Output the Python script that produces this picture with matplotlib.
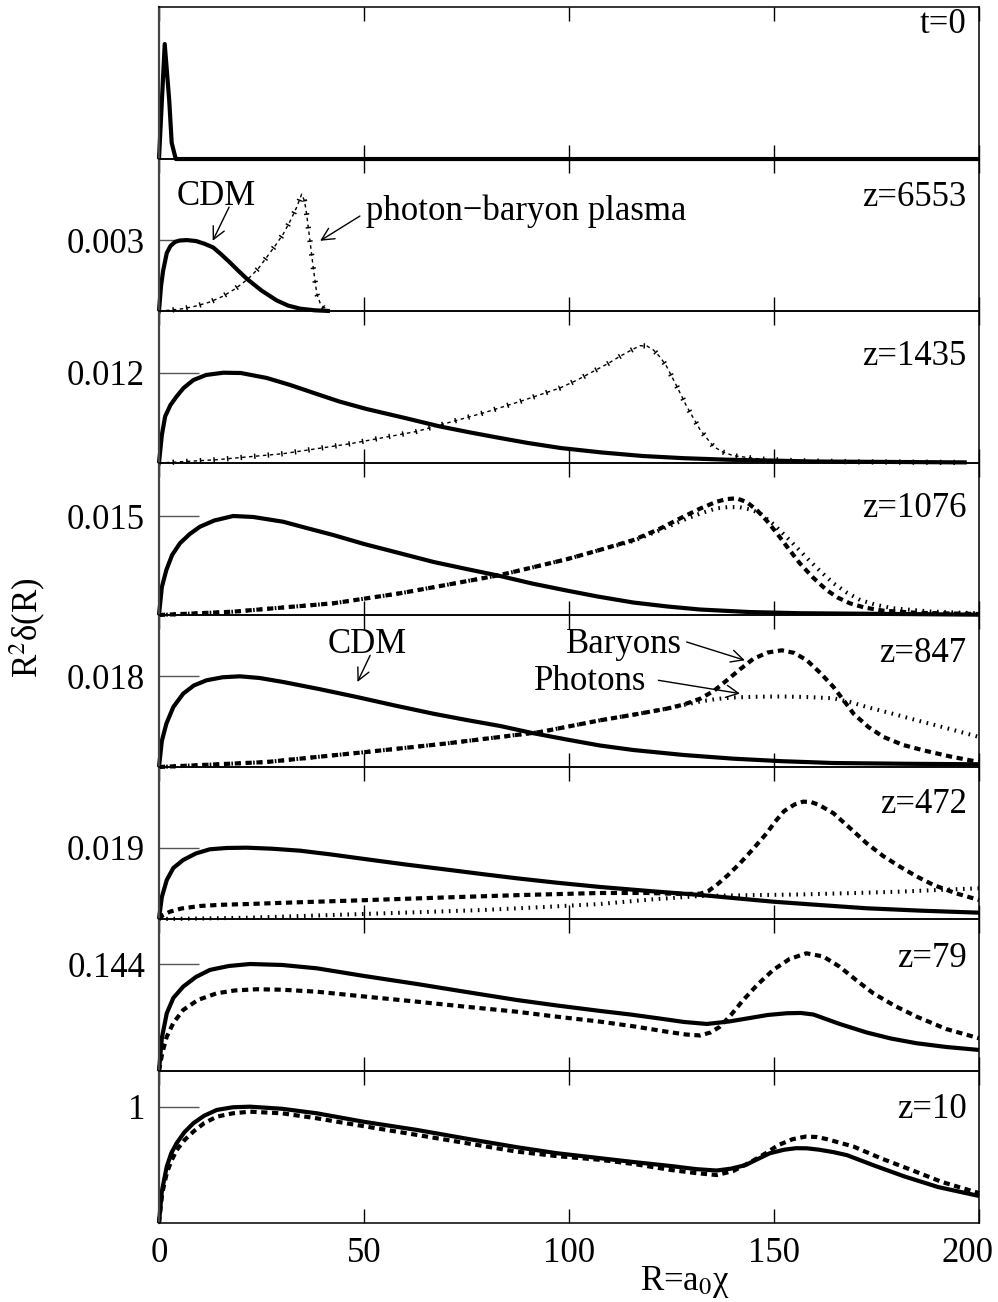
import matplotlib
matplotlib.use("Agg")
import matplotlib.pyplot as plt
from matplotlib.transforms import ScaledTranslation

plt.rcParams["font.family"] = ["Liberation Serif", "DejaVu Serif"]
plt.rcParams["mathtext.fontset"] = "stix"
plt.rcParams["lines.solid_capstyle"] = "butt"
plt.rcParams["lines.dash_capstyle"] = "butt"
plt.rcParams["lines.solid_joinstyle"] = "round"

# ---- data ---------------------------------------------------------------
# t=0 : initial spike (arbitrary units)
r_t0 = [0, 1.4, 2.5, 3.1, 4.1, 200]
cdm_t0 = [0, 1.0, 0.51, 0.14, 0, 0]

# z=6553
r_cdm_6553 = [0, 0.5, 1.0, 1.9, 2.8, 3.9, 5.0, 6.8, 9.0, 11.0, 13.2, 15.2,
              17.3, 19.4, 21.4, 25.0, 28.7, 31.5, 34.4, 38.0, 41.7]
cdm_6553 = [0, 0.00106, 0.0017, 0.00246, 0.00276, 0.00293, 0.00299, 0.00301,
            0.00297, 0.00286, 0.0027, 0.0024, 0.00206, 0.0017, 0.00137,
            0.00087, 0.00045, 0.00023, 0.0001, 0.00003, 0.0]
r_pb_6553 = [0, 3, 5.9, 9, 12.4, 15.5, 18.1, 20.2, 22.2, 24.3, 26.3, 28.3,
             30.3, 32, 33.6, 34.8, 35.5, 36.0, 36.8, 37.6, 38.5, 39.3, 40.1,
             41.7]
pb_6553 = [0, 0.00004, 0.0001, 0.00021, 0.00038, 0.00062, 0.00089, 0.00115,
           0.00144, 0.00182, 0.00229, 0.00276, 0.00327, 0.00382, 0.00441,
           0.00496, 0.00467, 0.00412, 0.00301, 0.00187, 0.00072, 0.00034,
           0.00017, 0.00002]

# z=1435
r_cdm_1435 = [0, 0.7, 1.5, 2.8, 4.3, 6.0, 8.4, 11.5, 15.7, 20, 26.3, 32, 38.5,
              44, 50.6, 60, 68.5, 76, 83.2, 90, 98, 108, 118, 128, 138.5, 160,
              197]
cdm_1435 = [0, 0.00372, 0.00619, 0.00771, 0.00885, 0.00997, 0.01103, 0.0117,
            0.0120, 0.01196, 0.0113, 0.01037, 0.00917, 0.00817, 0.00718,
            0.00598, 0.00486, 0.00405, 0.00332, 0.00266, 0.00199, 0.0014,
            0.00093, 0.00064, 0.00044, 0.0002, 0.00008]
r_pb_1435 = [0, 14.1, 30.3, 46.6, 62.9, 79.1, 88, 97.8, 102, 105.9, 109.5,
             112.4, 115, 117.3, 119, 120.6, 122.2, 123.8, 126.3, 128.7, 132,
             135.2, 137.5, 140.1, 146.6, 154.7, 170, 197]
pb_1435 = [0, 0.00044, 0.00124, 0.00256, 0.0042, 0.00665, 0.00817, 0.00997,
           0.01103, 0.01217, 0.01322, 0.01417, 0.01495, 0.01559, 0.01555,
           0.01502, 0.01409, 0.01284, 0.01018, 0.00752, 0.00439, 0.00221,
           0.00146, 0.00097, 0.00053, 0.00031, 0.00016, 0.00007]

# z=1076
r_cdm_1076 = [0, 0.7, 1.8, 3.2, 5.1, 7.5, 10, 13.5, 18.1, 23, 30.3, 36, 42.5,
              50, 58.8, 67, 75, 83.2, 91, 99.4, 107, 115.7, 124, 132, 144,
              156.3, 200]
cdm_1076 = [0, 0.00424, 0.00682, 0.00909, 0.01086, 0.01227, 0.01338, 0.01432,
            0.0150, 0.01485, 0.01413, 0.01318, 0.01212, 0.01076, 0.00935,
            0.00803, 0.00697, 0.00591, 0.00477, 0.00371, 0.0028, 0.00189,
            0.00129, 0.00083, 0.00045, 0.00027, 0.00005]
r_bar_1076 = [0, 18, 42.5, 58.8, 70, 83.2, 91, 99.4, 107, 115.7, 122, 127.9,
              132, 136, 138.5, 140.9, 143.3, 145.8, 148.3, 150.7, 153.5, 156.3,
              159.5, 162.8, 165.5, 168.5, 172, 176.7, 185, 200]
bar_1076 = [0, 0.0005, 0.00177, 0.00329, 0.00455, 0.00606, 0.0072, 0.00844,
            0.00977, 0.01136, 0.01303, 0.01489, 0.01613, 0.01717, 0.01757,
            0.01768, 0.01712, 0.01591, 0.01424, 0.01238, 0.01007, 0.00783,
            0.00568, 0.00379, 0.00265, 0.00177, 0.00114, 0.00065, 0.00033,
            0.00015]
r_pho_1076 = [0, 18, 42.5, 58.8, 70, 83.2, 91, 99.4, 107, 115.7, 122, 127.9,
              132, 136, 139, 141.7, 144.2, 146.6, 149.8, 153, 155.8, 158.5,
              161.5, 164.5, 167.7, 171, 175, 179, 188, 200]
pho_1076 = [0, 0.0005, 0.00177, 0.00329, 0.00455, 0.00606, 0.0072, 0.00844,
            0.00977, 0.01121, 0.0128, 0.01439, 0.01538, 0.01617, 0.01636,
            0.01632, 0.01598, 0.01541, 0.01379, 0.01186, 0.01007, 0.00833,
            0.00651, 0.0048, 0.00341, 0.00227, 0.00152, 0.00102, 0.00053,
            0.00026]

# z=847
r_cdm_847 = [0, 0.7, 1.8, 3.5, 5.9, 8.5, 11.6, 15.5, 19.7, 24.5, 30.3, 39,
             48.2, 57.5, 66.9, 75, 83.2, 91, 99.4, 107.5, 115.7, 128, 140.1,
             152, 164.5, 182, 200]
cdm_847 = [0, 0.00516, 0.0086, 0.01191, 0.01455, 0.01618, 0.01721, 0.01781,
           0.0180, 0.01767, 0.01687, 0.01548, 0.0139, 0.01221, 0.01058,
           0.00933, 0.00814, 0.00675, 0.00546, 0.00427, 0.00337, 0.00238,
           0.00165, 0.00115, 0.00079, 0.00064, 0.00054]
r_bar_847 = [0, 26.3, 50.6, 70, 83.2, 93, 107.6, 116, 123.8, 128, 132, 135.3,
             138.5, 141.8, 145, 148.5, 151.9, 155, 158, 161.3, 164.5, 167,
             169.4, 173, 176.7, 181.5, 186.4, 193, 200]
bar_847 = [0, 0.00099, 0.00298, 0.00466, 0.00596, 0.00695, 0.00927, 0.01042,
           0.01157, 0.01241, 0.01356, 0.01509, 0.01721, 0.01945, 0.0215,
           0.02273, 0.02316, 0.02263, 0.02118, 0.01866, 0.01588, 0.0132,
           0.01058, 0.00794, 0.00596, 0.00437, 0.00331, 0.00208, 0.00099]
r_pho_847 = [0, 26.3, 50.6, 70, 83.2, 93, 107.6, 116, 123.8, 128, 132, 136,
             140.1, 146, 152, 158, 164.5, 168.5, 172.6, 178.7, 184.8, 192.4,
             200]
pho_847 = [0, 0.00099, 0.00298, 0.00466, 0.00596, 0.00695, 0.00927, 0.01042,
           0.01157, 0.01231, 0.013, 0.0135, 0.0138, 0.01395, 0.014, 0.01389,
           0.01364, 0.0129, 0.01191, 0.01062, 0.00927, 0.00764, 0.00596]

# z=472
r_cdm_472 = [0, 0.7, 1.9, 3.5, 5.9, 9, 12.4, 16.5, 21.4, 27.5, 34.4, 42, 50.6,
             60.5, 70.9, 79, 87.2, 97, 107.6, 120, 132, 141, 149.8, 161, 172.6,
             186, 200]
cdm_472 = [0, 0.00586, 0.01039, 0.01359, 0.01572, 0.01746, 0.01857, 0.01892,
           0.0190, 0.01873, 0.0182, 0.01719, 0.01591, 0.01447, 0.01306,
           0.01194, 0.01085, 0.00967, 0.00853, 0.00741, 0.0064, 0.00549,
           0.00461, 0.00373, 0.00285, 0.00221, 0.00168]
r_bar_472 = [0, 1, 2.7, 5.5, 10, 15, 22.2, 34, 46.6, 58.8, 70.9, 89, 107.6,
             119, 128, 132, 134, 136, 138.8, 141.7, 145, 148.2, 150.3, 152.5,
             155, 157.1, 159, 161, 164.5, 168.5, 172.6, 176.6, 180.7, 184.8,
             188.9, 194.5, 200]
bar_472 = [0, 0.00107, 0.00195, 0.0028, 0.00346, 0.00378, 0.004, 0.00445,
           0.00488, 0.00533, 0.00578, 0.0064, 0.00693, 0.00693, 0.00666,
           0.00674, 0.00746, 0.00906, 0.01173, 0.01484, 0.01879, 0.02284,
           0.02598, 0.02878, 0.03051, 0.03126, 0.03118, 0.03038, 0.02817,
           0.02425, 0.02017, 0.01679, 0.01394, 0.01133, 0.00906, 0.0068,
           0.00506]
r_pho_472 = [0, 10, 22.2, 35, 49.8, 65, 79.1, 93, 107.6, 120, 132, 144, 156.3,
             168.5, 180.7, 190, 200]
pho_472 = [0, 0.00013, 0.00035, 0.0008, 0.00133, 0.00187, 0.0024, 0.00314,
           0.004, 0.0052, 0.00613, 0.00634, 0.00653, 0.00688, 0.00728,
           0.00773, 0.00818]

# z=79
r_cdm_79 = [0, 0.7, 1.9, 3.5, 5.9, 9, 12.4, 17, 22.2, 30, 38.5, 50, 62.9, 75,
            87.2, 97, 107.6, 115, 122, 128, 133.6, 139, 144.1, 148.5, 153.1,
            156.5, 159.6, 166, 172.6, 178.5, 184.8, 192, 200]
cdm_79 = [0, 0.0444, 0.0777, 0.0983, 0.1135, 0.1265, 0.136, 0.1413, 0.144,
          0.1427, 0.1382, 0.1279, 0.1171, 0.1063, 0.0956, 0.0882, 0.0808,
          0.076, 0.0707, 0.066, 0.0633, 0.0666, 0.0713, 0.0754, 0.0777,
          0.0781, 0.076, 0.0633, 0.0518, 0.0437, 0.0373, 0.0323, 0.0283]
r_bar_79 = [0, 0.8, 1.9, 3.5, 5.9, 9.5, 14.1, 18.5, 23.8, 30, 38.5, 50, 62.9,
            75, 87.2, 97, 107.6, 116, 123.8, 128.5, 132, 134.5, 136.8, 139.5,
            142.5, 146, 149.8, 153.8, 157.9, 162, 166, 170, 174.2, 179.5,
            184.8, 192, 200]
bar_79 = [0, 0.0242, 0.0462, 0.0646, 0.0821, 0.0956, 0.1046, 0.1084, 0.11,
          0.1094, 0.1067, 0.1003, 0.0933, 0.0864, 0.0798, 0.0731, 0.0664,
          0.0599, 0.0529, 0.0491, 0.0478, 0.0518, 0.0596, 0.0754, 0.0956,
          0.1164, 0.136, 0.1508, 0.1584, 0.1541, 0.1404, 0.1225, 0.1046,
          0.0875, 0.0731, 0.0565, 0.044]

# z=10
r_cdm_10 = [0, 0.7, 1.9, 3, 4.3, 6.2, 8.4, 11, 14.1, 18, 22.2, 30, 38.5, 50,
            62.9, 75, 87.2, 97, 107.6, 116, 125, 131, 136, 139.5, 143, 146,
            149, 152.5, 155.4, 158, 161, 164.5, 167.8, 174.5, 181.8, 190, 200]
cdm_10 = [0, 0.274, 0.485, 0.6, 0.686, 0.78, 0.858, 0.922, 0.972, 0.995, 1.0,
          0.982, 0.943, 0.87, 0.80, 0.725, 0.652, 0.60, 0.557, 0.523, 0.489,
          0.463, 0.451, 0.467, 0.497, 0.549, 0.60, 0.63, 0.643, 0.642, 0.63,
          0.609, 0.583, 0.493, 0.40, 0.309, 0.232]
r_bar_10 = [0, 0.8, 1.9, 3, 4.3, 6.2, 8.4, 11, 14.1, 18, 22.2, 30, 38.5, 50,
            62.9, 75, 87.2, 97, 107.6, 116, 125, 131, 136, 140, 144.5, 148,
            151, 154.5, 157.7, 160.5, 163, 166, 169.4, 176, 183.4, 191, 200]
bar_10 = [0, 0.257, 0.429, 0.532, 0.626, 0.712, 0.786, 0.858, 0.914, 0.943,
          0.957, 0.943, 0.90, 0.832, 0.757, 0.686, 0.614, 0.575, 0.543, 0.506,
          0.455, 0.429, 0.412, 0.446, 0.528, 0.60, 0.669, 0.72, 0.743, 0.739,
          0.72, 0.69, 0.657, 0.557, 0.457, 0.352, 0.257]

panel_labels = ["t=0", "z=6553", "z=1435", "z=1076", "z=847", "z=472",
                "z=79", "z=10"]
ytick_values = [None, 0.003, 0.012, 0.015, 0.018, 0.019, 0.144, 1]
ytick_labels = ["", "0.003", "0.012", "0.015", "0.018", "0.019", "0.144", "1"]
x_ticks = [0, 50, 100, 150, 200]

# ---- layout / styles -----------------------------------------------------
Y_MAX = [1.322, 0.00645, 0.0202, 0.02303, 0.03017, 0.0405, 0.2046, 1.307]
LABEL_Y = [0.83, 0.69, 0.645, 0.645, 0.693, 0.697, 0.686, 0.69]
FS = 25

CDM_STYLE = dict(color="black", lw=3.0, linestyle="-")
BAR_STYLE = dict(color="black", lw=3.0, linestyle=(0, (1.5, 1.1)))
PHO_STYLE = dict(color="black", lw=2.9, linestyle=(0, (0.4, 1.4)))


def plot_plasma(ax, r, v):
    """Thin dashed line with perpendicular ticks (the '+--I' look)."""
    ax.plot(r, v, color="black", lw=1.0, linestyle=(0, (2.5, 2.5)),
            clip_on=False)
    ax.plot(r, v, color="black", lw=3.8, linestyle=(0, (0.28, 2.3)),
            clip_on=False)


def arrow(ax, tip, start):
    ax.annotate("", xy=tip, xytext=start,
                arrowprops=dict(arrowstyle="->", lw=1.0, color="black",
                                mutation_scale=22, shrinkA=0, shrinkB=0))


fig = plt.figure(figsize=(9.98, 13.02), dpi=100)
axes = fig.subplots(8, 1, sharex=True, gridspec_kw=dict(
    hspace=0, left=0.1593, right=0.981, top=0.9946, bottom=0.0607))

for i, ax in enumerate(axes):
    ax.patch.set_visible(False)
    ax.set_xlim(0, 200)
    ax.set_ylim(0, Y_MAX[i])
    ax.set_xticks(x_ticks)
    ax.tick_params(axis="x", direction="in", top=True, bottom=True,
                   length=10, width=1, labelsize=FS, pad=10)
    if ytick_values[i] is None:
        ax.set_yticks([])
    else:
        ax.set_yticks([ytick_values[i]])
        ax.set_yticklabels([ytick_labels[i]])
    ax.tick_params(axis="y", direction="in", length=29, width=1,
                   color="#555555", labelsize=FS, pad=10)
    for side in ("top", "bottom", "right"):
        ax.spines[side].set_linewidth(1.1)
    ax.spines["left"].set_linewidth(1.6)
    ax.spines["left"].set_color("#444444")
    ax.text(0.985, LABEL_Y[i], panel_labels[i], transform=ax.transAxes,
            ha="right", va="baseline", fontsize=FS)

# t=0
axes[0].plot(r_t0, cdm_t0, clip_on=False, **CDM_STYLE)

# z=6553
ax = axes[1]
ax.plot(r_cdm_6553, cdm_6553, clip_on=False, **CDM_STYLE)
plot_plasma(ax, r_pb_6553, pb_6553)
ax.text(13.9, 0.0045, "CDM", ha="center", va="baseline", fontsize=FS)
arrow(ax, (13.1, 0.00298), (17.1, 0.00441))
ax.text(50.5, 0.00386, "photon\u2212baryon plasma", ha="left",
        va="baseline", fontsize=FS)
arrow(ax, (39.3, 0.00298), (49.0, 0.00403))

# z=1435
ax = axes[2]
ax.plot(r_cdm_1435, cdm_1435, clip_on=False, **CDM_STYLE)
plot_plasma(ax, r_pb_1435, pb_1435)

# z=1076
ax = axes[3]
ax.plot(r_cdm_1076, cdm_1076, clip_on=False, **CDM_STYLE)
ax.plot(r_bar_1076, bar_1076, clip_on=False, **BAR_STYLE)
ax.plot(r_pho_1076, pho_1076, clip_on=False, **PHO_STYLE)

# z=847
ax = axes[4]
ax.plot(r_cdm_847, cdm_847, clip_on=False, **CDM_STYLE)
ax.plot(r_bar_847, bar_847, clip_on=False, **BAR_STYLE)
ax.plot(r_pho_847, pho_847, clip_on=False, **PHO_STYLE)
ax.text(50.7, 0.02257, "CDM", ha="center", va="baseline", fontsize=FS)
arrow(ax, (48.4, 0.01687), (51.5, 0.02217))
ax.text(127.5, 0.02257, "Baryons", ha="right", va="baseline", fontsize=FS)
arrow(ax, (142.9, 0.02118), (128.7, 0.02481))
ax.text(118.9, 0.01522, "Photons", ha="right", va="baseline", fontsize=FS)
arrow(ax, (141.7, 0.01457), (121.8, 0.01721))

# z=472
ax = axes[5]
ax.plot(r_cdm_472, cdm_472, clip_on=False, **CDM_STYLE)
ax.plot(r_bar_472, bar_472, clip_on=False, **BAR_STYLE)
ax.plot(r_pho_472, pho_472, clip_on=False, **PHO_STYLE)

# z=79
ax = axes[6]
ax.plot(r_cdm_79, cdm_79, clip_on=False, **CDM_STYLE)
ax.plot(r_bar_79, bar_79, clip_on=False, **BAR_STYLE)

# z=10
ax = axes[7]
ax.plot(r_cdm_10, cdm_10, clip_on=False, **CDM_STYLE)
ax.plot(r_bar_10, bar_10, clip_on=False, **BAR_STYLE)

# last x tick label sits a little left so it stays inside the figure
last = axes[-1].get_xticklabels()[-1]
last.set_transform(last.get_transform()
                   + ScaledTranslation(-0.12, 0, fig.dpi_scale_trans))

fig.text(28 / 998, 1 - 628 / 1302, r"R$^2$δ(R)", rotation=90,
         ha="center", va="center", fontsize=FS)
fig.text(685 / 998, 1 - 1282 / 1302, r"R=a$_0$χ", ha="center",
         va="center", fontsize=FS)

fig.savefig("out.png", dpi=100)
